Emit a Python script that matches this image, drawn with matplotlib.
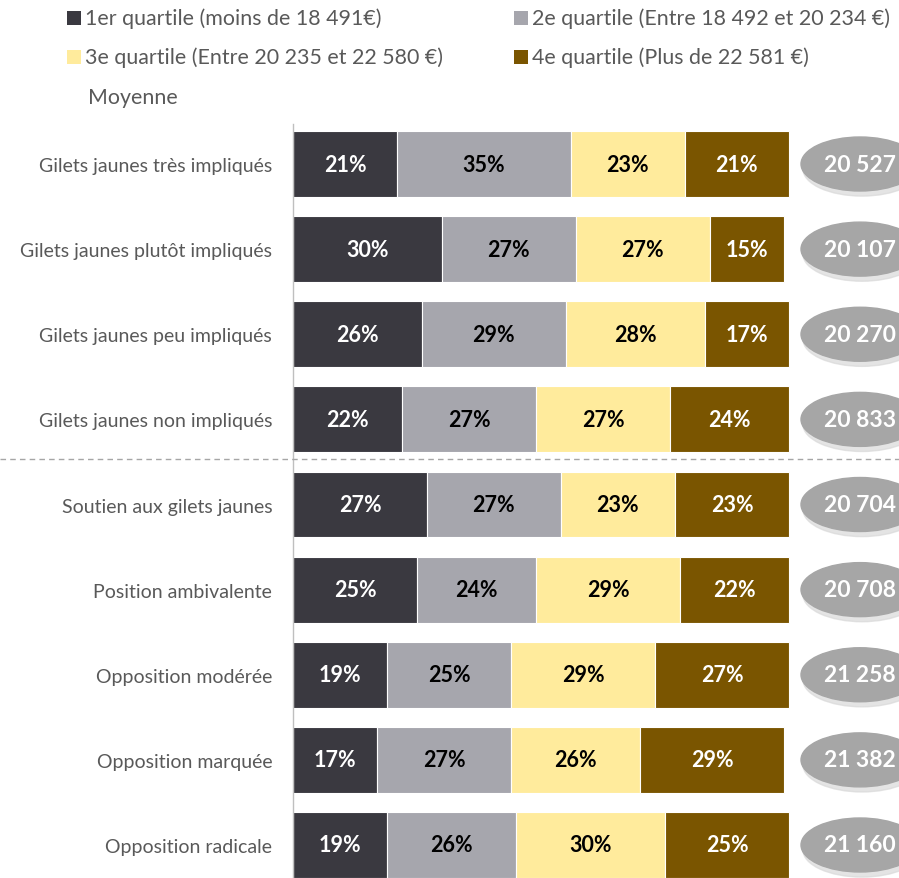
import numpy as np
import matplotlib
matplotlib.use("Agg")
import matplotlib.pyplot as plt
from matplotlib.patches import Ellipse, Rectangle
from matplotlib.lines import Line2D

plt.rcParams['font.family'] = ['Lato', 'DejaVu Sans']

# -------- Data --------
categories = [
    "Gilets jaunes très impliqués",
    "Gilets jaunes plutôt impliqués",
    "Gilets jaunes peu impliqués",
    "Gilets jaunes non impliqués",
    "Soutien aux gilets jaunes",
    "Position ambivalente",
    "Opposition modérée",
    "Opposition marquée",
    "Opposition radicale",
]
q1 = [21, 30, 26, 22, 27, 25, 19, 17, 19]
q2 = [35, 27, 29, 27, 27, 24, 25, 27, 26]
q3 = [23, 27, 28, 27, 23, 29, 29, 26, 30]
q4 = [21, 15, 17, 24, 23, 22, 27, 29, 25]
moyenne = ["20 527", "20 107", "20 270", "20 833", "20 704", "20 708", "21 258", "21 382", "21 160"]

series_labels = [
    "1er quartile (moins de 18 491€)",
    "2e quartile (Entre 18 492 et 20 234 €)",
    "3e quartile (Entre 20 235 et 22 580 €)",
    "4e quartile (Plus de 22 581 €)",
]
colors = ["#3A3940", "#A6A6AD", "#FFEB9C", "#7A5500"]
text_colors = ["white", "black", "black", "white"]

W, H = 899, 879
fig = plt.figure(figsize=(W / 100, H / 100), dpi=100)

# axes: x=0 at px 293, x=100 at px 789
px_per_unit = (789 - 293) / 100
xmax = (W - 293) / px_per_unit
ax = fig.add_axes([293 / W, 0, 1 - 293 / W, (H - 125) / H])
row_px = 85.125
y_top = -(165 - 125) / row_px
y_bot = 8 + (H - 846) / row_px
ax.set_xlim(0, xmax)
ax.set_ylim(y_bot, y_top)

y = np.arange(len(categories))
left = np.zeros(len(categories))
for vals, col, tcol in zip([q1, q2, q3, q4], colors, text_colors):
    vals = np.array(vals, dtype=float)
    ax.barh(y, vals, left=left, height=0.775, color=col, edgecolor="white", linewidth=0.8)
    for yi, l, v in zip(y, left, vals):
        ax.text(l + v / 2, yi, f"{int(v)}%", ha="center", va="center",
                color=tcol, fontsize=15.5, fontweight="bold")
    left += vals

# Moyenne ellipses
ex = (860 - 293) / px_per_unit
ew = 118 / px_per_unit
eh = 54 / row_px
for yi, m in zip(y, moyenne):
    shadow = Ellipse((ex + 0.4, yi + 0.06), ew, eh, color="#D9D9D9", alpha=0.7, clip_on=False)
    ax.add_patch(shadow)
    ax.add_patch(Ellipse((ex, yi), ew, eh, color="#A6A6A6", clip_on=False))
    ax.text(ex, yi, m, ha="center", va="center", color="white",
            fontsize=16.5, fontweight="bold")

# category labels
ax.set_yticks(y)
ax.set_yticklabels(categories, fontsize=14, color="#595959")
ax.tick_params(axis="y", length=0, pad=15)
ax.set_xticks([])
for s in ["top", "right", "bottom"]:
    ax.spines[s].set_visible(False)
ax.spines["left"].set_color("#BFBFBF")
ax.spines["left"].set_linewidth(1)

# dashed separator across the figure
fig.add_artist(Line2D([0, 1], [1 - 460 / H, 1 - 460 / H], color="#A6A6A6",
                      linestyle=(0, (4, 3)), linewidth=1, transform=fig.transFigure))

# legend
leg_pos = [(67, 19), (514, 19), (67, 58), (514, 58)]
for (lx, ly), lab, col in zip(leg_pos, series_labels, colors):
    fig.add_artist(Rectangle((lx / W, 1 - (ly + 7) / H), 14 / W, 14 / H,
                             facecolor=col, edgecolor="none", transform=fig.transFigure))
    fig.text((lx + 18) / W, 1 - ly / H, lab, ha="left", va="center",
             fontsize=15.4, color="#595959")
fig.text(88 / W, 1 - 98 / H, "Moyenne", ha="left", va="center",
         fontsize=15.4, color="#595959")

fig.savefig("out.png", dpi=100)
